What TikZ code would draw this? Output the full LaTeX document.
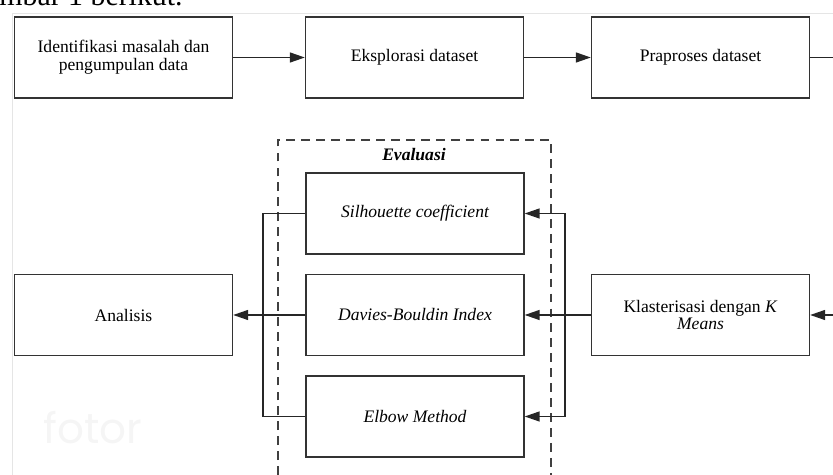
\documentclass[tikz,border=0pt]{standalone}
\usepackage{fontspec}
\setmainfont{Liberation Serif}
\newfontfamily\tandaair{Poppins}
\usetikzlibrary{arrows.meta}

\begin{document}
\begin{tikzpicture}[x=0.02cm,y=-0.02cm,
    kotak/.style={draw=black!80,line width=0.8pt,minimum width=4.36cm,
      minimum height=1.62cm,align=center,inner sep=0pt,
      font=\fontsize{10}{10.2}\selectfont},
    miring/.style={kotak,font=\itshape\fontsize{10}{10.2}\selectfont},
    garis/.style={draw=black!85,line width=0.8pt},
    panah/.style={garis,-{Triangle[length=0.3cm,width=0.2cm]}}]
          \useasboundingbox (0,0) rectangle (833,475);
          % bingkai tangkapan layar
          \draw[gray!20] (12,475) |- (833,13);
          \node[anchor=base west,inner sep=0pt,font=\fontsize{17}{17}\selectfont]
            (judul) at (-1,6) {mbar 1 berikut.};
          \node[gray!8,font=\tandaair\fontsize{24}{24}\selectfont] (air) at (93,428) {fotor};

          % baris atas
          \node[kotak] (ident) at (123.5,57.5) {Identifikasi masalah dan\\ pengumpulan data};
          \node[kotak] (eksplor) at (414.5,57.5) {Eksplorasi dataset};
          \node[kotak] (prapro) at (700.5,57.5) {Praproses dataset};

          % baris tengah
          \node[kotak] (analisis) at (123.5,315) {Analisis};
          \node[kotak] (klaster) at (700.5,315) {Klasterisasi dengan \textit{K}\\ \textit{Means}};

          % evaluasi
          \draw[black!75,line width=0.7pt,dash pattern=on 5pt off 3.5pt]
            (278,475) |- (551,140) -- (551,475);
          \node[font=\bfseries\itshape\fontsize{10}{10}\selectfont] (eval) at (414,155) {Evaluasi};
          \node[miring] (sil) at (415,213.5) {Silhouette coefficient};
          \node[miring] (dbi) at (415,315) {Davies-Bouldin Index};
          \node[miring] (elbow) at (415,416.5) {Elbow Method};

          \coordinate (keluar) at (833,57.5);
          \coordinate (masuk) at (833,315);
          \coordinate (kanan) at (565,315);
          \coordinate (kiri) at (263,315);

          \draw[panah] (ident) -- (eksplor);
          \draw[panah] (eksplor) -- (prapro);
          \draw[garis] (prapro) -- (keluar);
          \draw[panah] (masuk) -- (klaster);
          \draw[garis] (klaster) -- (kanan);
          \draw[panah] (kanan) |- (sil.east);
          \draw[panah] (kanan) -- (dbi.east);
          \draw[panah] (kanan) |- (elbow.east);
          \draw[garis] (sil.west) -| (kiri);
          \draw[garis] (elbow.west) -| (kiri);
          \draw[panah] (dbi.west) -- (analisis.east);
        \end{tikzpicture}
\end{document}
